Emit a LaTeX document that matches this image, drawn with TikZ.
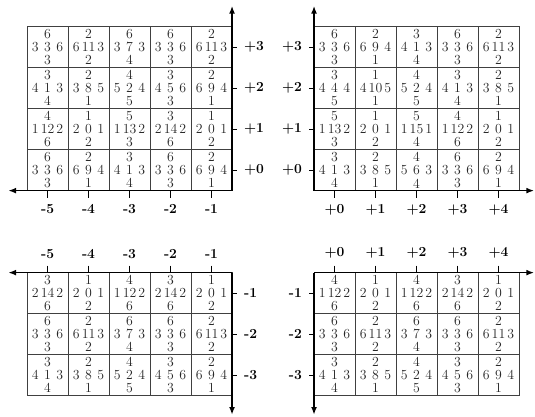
\documentclass[tikz,border=0pt]{standalone}
\usetikzlibrary{arrows.meta,positioning}
\newcommand{\wtile}[5]{#1\\\makebox[27pt]{#2\hfill#3\hfill#4}\\#5}

\begin{document}
\begin{tikzpicture}[
    x=1.25cm, y=1.25cm,
    >={Latex[length=2.4mm, width=1.8mm]},
    tile/.style={draw=black!75, line width=0.7pt, minimum size=1.25cm, inner sep=0pt, align=center, text=black!85, font=\fontsize{12}{11.5}\selectfont},
    axis/.style={->, line width=1.5pt},
    tick/.style={line width=0.7pt},
    lab/.style={font=\large\bfseries, inner sep=6pt},
]
    \useasboundingbox (-6.66,-4.52) rectangle (6.39,5.65);

    % --- Origins and axis ends ---
    \coordinate (oa) at (-1,1);
    \coordinate (ob) at (1,1);
    \coordinate (oc) at (-1,-1);
    \coordinate (od) at (1,-1);
    \coordinate (oax) at (-6.46,1);
    \coordinate (oay) at (-1,5.51);
    \coordinate (obx) at (6.37,1);
    \coordinate (oby) at (1,5.51);
    \coordinate (ocx) at (-6.46,-1);
    \coordinate (ocy) at (-1,-4.47);
    \coordinate (odx) at (6.37,-1);
    \coordinate (ody) at (1,-4.47);

    % --- Upper left tiles ---
    \node[tile] (a1) at (-5.5,4.5) {\wtile{6}{3}{3}{6}{3}};
    \node[tile] (a2) at (-4.5,4.5) {\wtile{2}{6}{11}{3}{2}};
    \node[tile] (a3) at (-3.5,4.5) {\wtile{6}{3}{7}{3}{4}};
    \node[tile] (a4) at (-2.5,4.5) {\wtile{6}{3}{3}{6}{3}};
    \node[tile] (a5) at (-1.5,4.5) {\wtile{2}{6}{11}{3}{2}};

    \node[tile] (a6) at (-5.5,3.5) {\wtile{3}{4}{1}{3}{4}};
    \node[tile] (a7) at (-4.5,3.5) {\wtile{2}{3}{8}{5}{1}};
    \node[tile] (a8) at (-3.5,3.5) {\wtile{4}{5}{2}{4}{5}};
    \node[tile] (a9) at (-2.5,3.5) {\wtile{3}{4}{5}{6}{3}};
    \node[tile] (a10) at (-1.5,3.5) {\wtile{2}{6}{9}{4}{1}};

    \node[tile] (a11) at (-5.5,2.5) {\wtile{4}{1}{12}{2}{6}};
    \node[tile] (a12) at (-4.5,2.5) {\wtile{1}{2}{0}{1}{2}};
    \node[tile] (a13) at (-3.5,2.5) {\wtile{5}{1}{13}{2}{3}};
    \node[tile] (a14) at (-2.5,2.5) {\wtile{3}{2}{14}{2}{6}};
    \node[tile] (a15) at (-1.5,2.5) {\wtile{1}{2}{0}{1}{2}};

    \node[tile] (a16) at (-5.5,1.5) {\wtile{6}{3}{3}{6}{3}};
    \node[tile] (a17) at (-4.5,1.5) {\wtile{2}{6}{9}{4}{1}};
    \node[tile] (a18) at (-3.5,1.5) {\wtile{3}{4}{1}{3}{4}};
    \node[tile] (a19) at (-2.5,1.5) {\wtile{6}{3}{3}{6}{3}};
    \node[tile] (a20) at (-1.5,1.5) {\wtile{2}{6}{9}{4}{1}};

    % --- Upper right tiles ---
    \node[tile] (b1) at (1.5,4.5) {\wtile{6}{3}{3}{6}{3}};
    \node[tile] (b2) at (2.5,4.5) {\wtile{2}{6}{9}{4}{1}};
    \node[tile] (b3) at (3.5,4.5) {\wtile{3}{4}{1}{3}{4}};
    \node[tile] (b4) at (4.5,4.5) {\wtile{6}{3}{3}{6}{3}};
    \node[tile] (b5) at (5.5,4.5) {\wtile{2}{6}{11}{3}{2}};

    \node[tile] (b6) at (1.5,3.5) {\wtile{3}{4}{4}{4}{5}};
    \node[tile] (b7) at (2.5,3.5) {\wtile{1}{4}{10}{5}{1}};
    \node[tile] (b8) at (3.5,3.5) {\wtile{4}{5}{2}{4}{5}};
    \node[tile] (b9) at (4.5,3.5) {\wtile{3}{4}{1}{3}{4}};
    \node[tile] (b10) at (5.5,3.5) {\wtile{2}{3}{8}{5}{1}};

    \node[tile] (b11) at (1.5,2.5) {\wtile{5}{1}{13}{2}{3}};
    \node[tile] (b12) at (2.5,2.5) {\wtile{1}{2}{0}{1}{2}};
    \node[tile] (b13) at (3.5,2.5) {\wtile{5}{1}{15}{1}{4}};
    \node[tile] (b14) at (4.5,2.5) {\wtile{4}{1}{12}{2}{6}};
    \node[tile] (b15) at (5.5,2.5) {\wtile{1}{2}{0}{1}{2}};

    \node[tile] (b16) at (1.5,1.5) {\wtile{3}{4}{1}{3}{4}};
    \node[tile] (b17) at (2.5,1.5) {\wtile{2}{3}{8}{5}{1}};
    \node[tile] (b18) at (3.5,1.5) {\wtile{4}{5}{6}{3}{4}};
    \node[tile] (b19) at (4.5,1.5) {\wtile{6}{3}{3}{6}{3}};
    \node[tile] (b20) at (5.5,1.5) {\wtile{2}{6}{9}{4}{1}};

    % --- Lower left tiles ---
    \node[tile] (c1) at (-5.5,-1.5) {\wtile{3}{2}{14}{2}{6}};
    \node[tile] (c2) at (-4.5,-1.5) {\wtile{1}{2}{0}{1}{2}};
    \node[tile] (c3) at (-3.5,-1.5) {\wtile{4}{1}{12}{2}{6}};
    \node[tile] (c4) at (-2.5,-1.5) {\wtile{3}{2}{14}{2}{6}};
    \node[tile] (c5) at (-1.5,-1.5) {\wtile{1}{2}{0}{1}{2}};

    \node[tile] (c6) at (-5.5,-2.5) {\wtile{6}{3}{3}{6}{3}};
    \node[tile] (c7) at (-4.5,-2.5) {\wtile{2}{6}{11}{3}{2}};
    \node[tile] (c8) at (-3.5,-2.5) {\wtile{6}{3}{7}{3}{4}};
    \node[tile] (c9) at (-2.5,-2.5) {\wtile{6}{3}{3}{6}{3}};
    \node[tile] (c10) at (-1.5,-2.5) {\wtile{2}{6}{11}{3}{2}};

    \node[tile] (c11) at (-5.5,-3.5) {\wtile{3}{4}{1}{3}{4}};
    \node[tile] (c12) at (-4.5,-3.5) {\wtile{2}{3}{8}{5}{1}};
    \node[tile] (c13) at (-3.5,-3.5) {\wtile{4}{5}{2}{4}{5}};
    \node[tile] (c14) at (-2.5,-3.5) {\wtile{3}{4}{5}{6}{3}};
    \node[tile] (c15) at (-1.5,-3.5) {\wtile{2}{6}{9}{4}{1}};

    % --- Lower right tiles ---
    \node[tile] (d1) at (1.5,-1.5) {\wtile{4}{1}{12}{2}{6}};
    \node[tile] (d2) at (2.5,-1.5) {\wtile{1}{2}{0}{1}{2}};
    \node[tile] (d3) at (3.5,-1.5) {\wtile{4}{1}{12}{2}{6}};
    \node[tile] (d4) at (4.5,-1.5) {\wtile{3}{2}{14}{2}{6}};
    \node[tile] (d5) at (5.5,-1.5) {\wtile{1}{2}{0}{1}{2}};

    \node[tile] (d6) at (1.5,-2.5) {\wtile{6}{3}{3}{6}{3}};
    \node[tile] (d7) at (2.5,-2.5) {\wtile{2}{6}{11}{3}{2}};
    \node[tile] (d8) at (3.5,-2.5) {\wtile{6}{3}{7}{3}{4}};
    \node[tile] (d9) at (4.5,-2.5) {\wtile{6}{3}{3}{6}{3}};
    \node[tile] (d10) at (5.5,-2.5) {\wtile{2}{6}{11}{3}{2}};

    \node[tile] (d11) at (1.5,-3.5) {\wtile{3}{4}{1}{3}{4}};
    \node[tile] (d12) at (2.5,-3.5) {\wtile{2}{3}{8}{5}{1}};
    \node[tile] (d13) at (3.5,-3.5) {\wtile{4}{5}{2}{4}{5}};
    \node[tile] (d14) at (4.5,-3.5) {\wtile{3}{4}{5}{6}{3}};
    \node[tile] (d15) at (5.5,-3.5) {\wtile{2}{6}{9}{4}{1}};

    % --- Axes ---
    \draw[axis] (oa) -- (oax);
    \draw[axis] (oa) -- (oay);
    \draw[axis] (ob) -- (obx);
    \draw[axis] (ob) -- (oby);
    \draw[axis] (oc) -- (ocx);
    \draw[axis] (oc) -- (ocy);
    \draw[axis] (od) -- (odx);
    \draw[axis] (od) -- (ody);

    % --- Column labels ---
    \node[lab, anchor=north] (xa1) at (-5.5,0.83) {-5};
    \node[lab, anchor=north] (xa2) at (-4.5,0.83) {-4};
    \node[lab, anchor=north] (xa3) at (-3.5,0.83) {-3};
    \node[lab, anchor=north] (xa4) at (-2.5,0.83) {-2};
    \node[lab, anchor=north] (xa5) at (-1.5,0.83) {-1};

    \node[lab, anchor=north] (xb1) at (1.5,0.83) {+0};
    \node[lab, anchor=north] (xb2) at (2.5,0.83) {+1};
    \node[lab, anchor=north] (xb3) at (3.5,0.83) {+2};
    \node[lab, anchor=north] (xb4) at (4.5,0.83) {+3};
    \node[lab, anchor=north] (xb5) at (5.5,0.83) {+4};

    \node[lab, anchor=south] (xc1) at (-5.5,-0.83) {-5};
    \node[lab, anchor=south] (xc2) at (-4.5,-0.83) {-4};
    \node[lab, anchor=south] (xc3) at (-3.5,-0.83) {-3};
    \node[lab, anchor=south] (xc4) at (-2.5,-0.83) {-2};
    \node[lab, anchor=south] (xc5) at (-1.5,-0.83) {-1};

    \node[lab, anchor=south] (xd1) at (1.5,-0.83) {+0};
    \node[lab, anchor=south] (xd2) at (2.5,-0.83) {+1};
    \node[lab, anchor=south] (xd3) at (3.5,-0.83) {+2};
    \node[lab, anchor=south] (xd4) at (4.5,-0.83) {+3};
    \node[lab, anchor=south] (xd5) at (5.5,-0.83) {+4};

    % --- Row labels ---
    \node[lab, anchor=west] (ya1) at (-0.88,4.5) {+3};
    \node[lab, anchor=west] (ya2) at (-0.88,3.5) {+2};
    \node[lab, anchor=west] (ya3) at (-0.88,2.5) {+1};
    \node[lab, anchor=west] (ya4) at (-0.88,1.5) {+0};

    \node[lab, anchor=east] (yb1) at (0.88,4.5) {+3};
    \node[lab, anchor=east] (yb2) at (0.88,3.5) {+2};
    \node[lab, anchor=east] (yb3) at (0.88,2.5) {+1};
    \node[lab, anchor=east] (yb4) at (0.88,1.5) {+0};

    \node[lab, anchor=west] (yc1) at (-0.88,-1.5) {-1};
    \node[lab, anchor=west] (yc2) at (-0.88,-2.5) {-2};
    \node[lab, anchor=west] (yc3) at (-0.88,-3.5) {-3};

    \node[lab, anchor=east] (yd1) at (0.88,-1.5) {-1};
    \node[lab, anchor=east] (yd2) at (0.88,-2.5) {-2};
    \node[lab, anchor=east] (yd3) at (0.88,-3.5) {-3};

    % --- Ticks ---
    \draw[tick] (xa1.north) -- (xa1.north |- oa);
    \draw[tick] (xa2.north) -- (xa2.north |- oa);
    \draw[tick] (xa3.north) -- (xa3.north |- oa);
    \draw[tick] (xa4.north) -- (xa4.north |- oa);
    \draw[tick] (xa5.north) -- (xa5.north |- oa);
    \draw[tick] (xb1.north) -- (xb1.north |- ob);
    \draw[tick] (xb2.north) -- (xb2.north |- ob);
    \draw[tick] (xb3.north) -- (xb3.north |- ob);
    \draw[tick] (xb4.north) -- (xb4.north |- ob);
    \draw[tick] (xb5.north) -- (xb5.north |- ob);
    \draw[tick] (xc1.south) -- (xc1.south |- oc);
    \draw[tick] (xc2.south) -- (xc2.south |- oc);
    \draw[tick] (xc3.south) -- (xc3.south |- oc);
    \draw[tick] (xc4.south) -- (xc4.south |- oc);
    \draw[tick] (xc5.south) -- (xc5.south |- oc);
    \draw[tick] (xd1.south) -- (xd1.south |- od);
    \draw[tick] (xd2.south) -- (xd2.south |- od);
    \draw[tick] (xd3.south) -- (xd3.south |- od);
    \draw[tick] (xd4.south) -- (xd4.south |- od);
    \draw[tick] (xd5.south) -- (xd5.south |- od);

    \draw[tick] (ya1.west) -- (ya1.west -| oa);
    \draw[tick] (ya2.west) -- (ya2.west -| oa);
    \draw[tick] (ya3.west) -- (ya3.west -| oa);
    \draw[tick] (ya4.west) -- (ya4.west -| oa);
    \draw[tick] (yb1.east) -- (yb1.east -| ob);
    \draw[tick] (yb2.east) -- (yb2.east -| ob);
    \draw[tick] (yb3.east) -- (yb3.east -| ob);
    \draw[tick] (yb4.east) -- (yb4.east -| ob);
    \draw[tick] (yc1.west) -- (yc1.west -| oc);
    \draw[tick] (yc2.west) -- (yc2.west -| oc);
    \draw[tick] (yc3.west) -- (yc3.west -| oc);
    \draw[tick] (yd1.east) -- (yd1.east -| od);
    \draw[tick] (yd2.east) -- (yd2.east -| od);
    \draw[tick] (yd3.east) -- (yd3.east -| od);

\end{tikzpicture}
\end{document}
